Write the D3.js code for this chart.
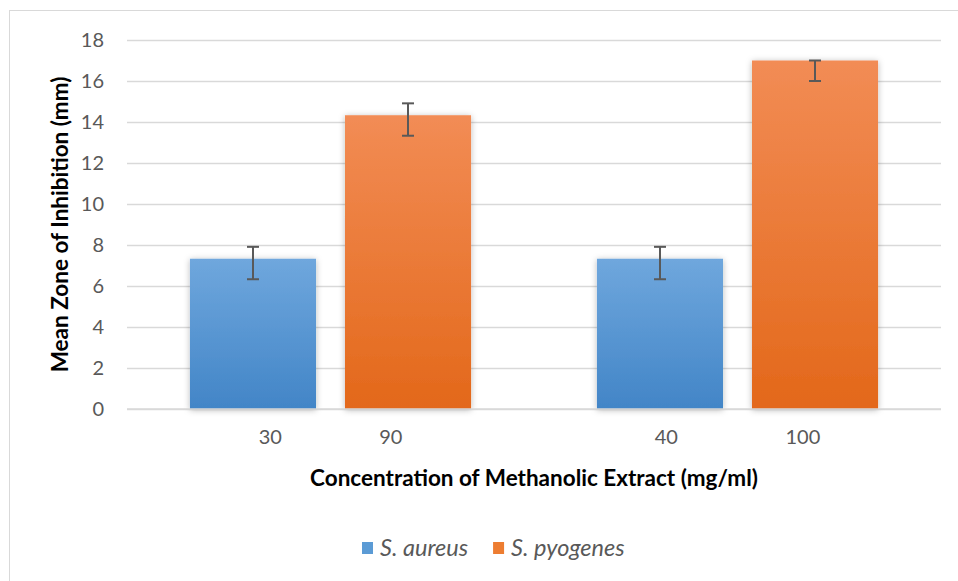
<!DOCTYPE html>
<html>
<head>
<meta charset="utf-8">
<script src="https://cdn.jsdelivr.net/npm/d3@7"></script>
<style>
  html, body { margin: 0; padding: 0; background: #fff; }
  svg { display: block; font-family: Lato, "Open Sans", sans-serif; }
</style>
</head>
<body>
<svg id="chart" width="958" height="581"></svg>
<script>
// ---- data ----
const groups = ["g1", "g2"];
const groupLabels = ["30                   90", "40                     100"];
const seriesNames = ["S. aureus", "S. pyogenes"];
const aureusValues = [7.33, 7.33];
const pyogenesValues = [14.33, 17.0];
const aureusErrPlus = [0.58, 0.58];
const aureusErrMinus = [1.0, 1.0];
const pyogenesErrPlus = [0.58, 0.0];
const pyogenesErrMinus = [1.0, 1.0];
const yTicks = [0, 2, 4, 6, 8, 10, 12, 14, 16, 18];
const yTitle = "Mean Zone of Inhibition (mm)";
const xTitle = "Concentration of Methanolic Extract (mg/ml)";

const seriesData = [
  { name: seriesNames[0], values: aureusValues, plus: aureusErrPlus, minus: aureusErrMinus, top: "#6fa7dd", bottom: "#4285c7", legend: "#5b9bd5" },
  { name: seriesNames[1], values: pyogenesValues, plus: pyogenesErrPlus, minus: pyogenesErrMinus, top: "#f28c55", bottom: "#e3681a", legend: "#ed7d31" }
];

const svg = d3.select("#chart");
const W = 958, H = 581;
const m = { left: 127, right: 17, top: 40, bottom: 172 };

// chart border
svg.append("rect").attr("x", 9.5).attr("y", 10.5).attr("width", W).attr("height", H)
  .attr("fill", "#fff").attr("stroke", "#d9d9d9").attr("stroke-width", 1);

const defs = svg.append("defs");
seriesData.forEach((s, i) => {
  const g = defs.append("linearGradient").attr("id", "grad" + i)
    .attr("x1", 0).attr("y1", 0).attr("x2", 0).attr("y2", 1);
  g.append("stop").attr("offset", "0%").attr("stop-color", s.top);
  g.append("stop").attr("offset", "100%").attr("stop-color", s.bottom);
});
const f = defs.append("filter").attr("id", "shadow").attr("x", "-20%").attr("y", "-20%").attr("width", "140%").attr("height", "140%");
f.append("feDropShadow").attr("dx", 0).attr("dy", 1).attr("stdDeviation", 3)
  .attr("flood-color", "#000").attr("flood-opacity", 0.28);

const x0 = d3.scaleBand().domain(groups).range([m.left, W - m.right]).paddingInner(0).paddingOuter(0);
const x1 = d3.scaleBand().domain(seriesNames).range([0, x0.bandwidth()]).paddingInner(0.187).paddingOuter(0.406);
const y = d3.scaleLinear().domain([0, 18]).range([H - m.bottom, m.top]);

// gridlines
const yAxis = d3.axisLeft(y).tickValues(yTicks).tickSize(-(W - m.right - m.left)).tickPadding(23);
const ya = svg.append("g").attr("transform", `translate(${m.left},0)`).call(yAxis);
ya.select(".domain").remove();
ya.selectAll(".tick line").attr("stroke", "#d9d9d9").attr("stroke-width", 1.5);
ya.selectAll(".tick text").attr("fill", "#595959").style("font-size", "20px").style("font-family", "Lato, sans-serif");

// bars
const gGroups = svg.append("g").selectAll("g").data(groups).join("g")
  .attr("transform", d => `translate(${x0(d)},0)`);

seriesData.forEach((s, si) => {
  gGroups.append("rect")
    .attr("x", x1(s.name))
    .attr("width", x1.bandwidth())
    .attr("y", (d, gi) => y(s.values[gi]))
    .attr("height", (d, gi) => y(0) - y(s.values[gi]))
    .attr("fill", `url(#grad${si})`)
    .attr("filter", "url(#shadow)");
});

// baseline
svg.append("line").attr("x1", m.left).attr("x2", W - m.right).attr("y1", y(0)).attr("y2", y(0))
  .attr("stroke", "#d9d9d9").attr("stroke-width", 1.5);

// error bars
seriesData.forEach((s) => {
  const cx = x1(s.name) + x1.bandwidth() / 2;
  const eb = gGroups.append("g").attr("stroke", "#595959").attr("stroke-width", 2);
  eb.append("line").attr("x1", cx).attr("x2", cx)
    .attr("y1", (d, gi) => y(s.values[gi] + s.plus[gi]))
    .attr("y2", (d, gi) => y(s.values[gi] - s.minus[gi]));
  eb.append("line").attr("x1", cx - 6).attr("x2", cx + 6)
    .attr("y1", (d, gi) => y(s.values[gi] + s.plus[gi]))
    .attr("y2", (d, gi) => y(s.values[gi] + s.plus[gi]));
  eb.append("line").attr("x1", cx - 6).attr("x2", cx + 6)
    .attr("y1", (d, gi) => y(s.values[gi] - s.minus[gi]))
    .attr("y2", (d, gi) => y(s.values[gi] - s.minus[gi]));
});

// x axis labels
const xAxis = d3.axisBottom(x0).tickSize(0).tickPadding(21).tickFormat((d, i) => groupLabels[i]);
const xa = svg.append("g").attr("transform", `translate(0,${y(0)})`).call(xAxis);
xa.select(".domain").remove();
xa.selectAll(".tick text").attr("fill", "#595959").style("font-size", "20px")
  .style("font-family", "Lato, sans-serif").style("white-space", "pre").attr("xml:space", "preserve");

// axis titles
svg.append("text").attr("x", (m.left + W - m.right) / 2).attr("y", 486)
  .attr("text-anchor", "middle").style("font-size", "22.5px").style("font-weight", "bold").attr("fill", "#000")
  .text(xTitle);
svg.append("text").attr("transform", `translate(68,${(y(0) + y(18)) / 2}) rotate(-90)`)
  .attr("text-anchor", "middle").style("font-size", "22.5px").style("font-weight", "bold").attr("fill", "#000")
  .text(yTitle);

// legend
const legend = svg.append("g").attr("transform", "translate(362,548)");
let lx = 0;
seriesData.forEach((s) => {
  const item = legend.append("g").attr("transform", `translate(${lx},0)`);
  item.append("rect").attr("x", 0).attr("y", -6).attr("width", 11).attr("height", 12).attr("fill", s.legend);
  const t = item.append("text").attr("x", 18).attr("y", 7.5).style("font-size", "23.5px").style("font-style", "italic")
    .attr("fill", "#595959").text(s.name);
  lx += 18 + t.node().getComputedTextLength() + 25;
});
</script>
</body>
</html>
